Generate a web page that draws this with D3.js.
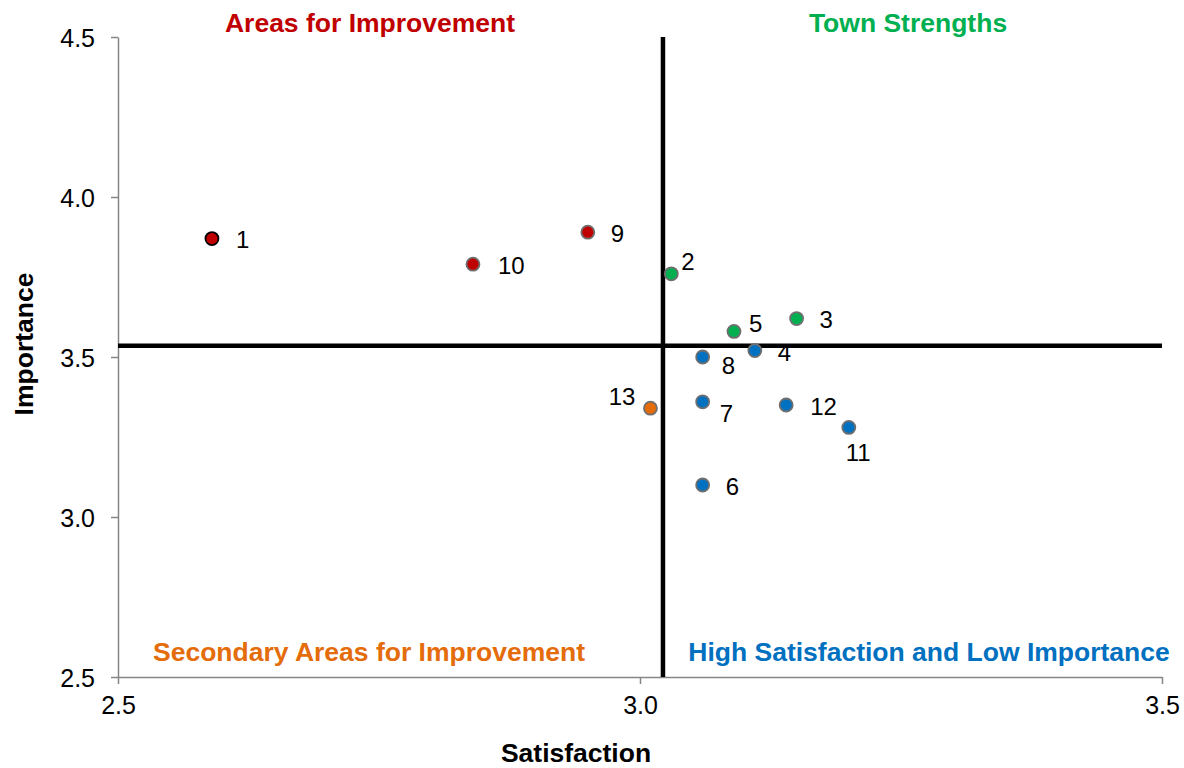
<!DOCTYPE html>
<html>
<head>
<meta charset="utf-8">
<script src="https://cdn.jsdelivr.net/npm/d3@7"></script>
<style>
  body { margin: 0; background: #fff; }
  svg { font-family: "Liberation Sans", Arial, sans-serif; }
</style>
</head>
<body>
<svg id="drawing_region"></svg>
<script>
// chart values
const ids          = ["1", "2", "3", "4", "5", "6", "7", "8", "9", "10", "11", "12", "13"];
const satisfaction = [2.59, 3.03, 3.15, 3.11, 3.09, 3.06, 3.06, 3.06, 2.95, 2.84, 3.20, 3.14, 3.01];
const importance   = [3.87, 3.76, 3.62, 3.52, 3.58, 3.10, 3.36, 3.50, 3.89, 3.79, 3.28, 3.35, 3.34];
const quadrant     = ["improve", "strength", "strength", "high", "strength", "high", "high", "high",
                      "improve", "improve", "high", "high", "secondary"];
const meanSatisfaction = 3.022;
const meanImportance   = 3.535;
const xTicks = [2.5, 3.0, 3.5];
const yTicks = [2.5, 3.0, 3.5, 4.0, 4.5];

// label placement (dx, dy from the point, anchor)
const labelPos = {
    "1":  [24, 1, "start"],  "2": [10, -12, "start"], "3": [23, 1, "start"],
    "4":  [23, 2, "start"],  "5": [15, -8, "start"],  "6": [23, 1, "start"],
    "7":  [17, 12, "start"], "8": [19, 8, "start"],   "9": [23, 1, "start"],
    "10": [25, 1, "start"],  "11": [-3, 25, "start"], "12": [24, 1, "start"],
    "13": [-15, -12, "end"]
};

const colors = {
    improve: "#C00000",
    strength: "#00B050",
    high: "#0070C0",
    secondary: "#E46C0A"
};

const data = ids.map((id, i) => ({
    id: id, x: satisfaction[i], y: importance[i], q: quadrant[i]
}));

const config = {
    width: 1184,
    height: 768,
    margin: {top: 37, right: 22, bottom: 91, left: 118}
};

const svg = d3.select("#drawing_region")
    .attr("width", config.width)
    .attr("height", config.height);

const inner_width = config.width - config.margin.left - config.margin.right;
const inner_height = config.height - config.margin.top - config.margin.bottom;

const chart = svg.append("g")
    .attr("transform", `translate(${config.margin.left}, ${config.margin.top})`);

const xscale = d3.scaleLinear().domain([2.5, 3.5]).range([0, inner_width]);
const yscale = d3.scaleLinear().domain([2.5, 4.5]).range([inner_height, 0]);

const xaxis = d3.axisBottom(xscale).tickValues(xTicks).tickFormat(d3.format(".1f"))
    .tickSizeInner(7).tickSizeOuter(0).tickPadding(12);
const yaxis = d3.axisLeft(yscale).tickValues(yTicks).tickFormat(d3.format(".1f"))
    .tickSizeInner(7).tickSizeOuter(0).tickPadding(16);

const xg = chart.append("g")
    .attr("transform", `translate(0, ${inner_height})`)
    .call(xaxis);
const yg = chart.append("g").call(yaxis);

[xg, yg].forEach(g => {
    g.selectAll("path, line").attr("stroke", "#868686").attr("stroke-width", 1.5);
    g.selectAll("text").attr("fill", "#000").attr("font-size", "25px")
        .attr("font-family", "Liberation Sans, Arial, sans-serif");
});
yg.selectAll("text").attr("dy", "0.36em");

// mean lines
chart.append("line")
    .attr("x1", xscale(meanSatisfaction)).attr("x2", xscale(meanSatisfaction))
    .attr("y1", 0).attr("y2", inner_height)
    .attr("stroke", "#000").attr("stroke-width", 4.5);
chart.append("line")
    .attr("x1", 0).attr("x2", inner_width)
    .attr("y1", yscale(meanImportance)).attr("y2", yscale(meanImportance))
    .attr("stroke", "#000").attr("stroke-width", 4.5);

// points
chart.selectAll("circle").data(data)
    .enter()
    .append("circle")
    .attr("cx", d => xscale(d.x))
    .attr("cy", d => yscale(d.y))
    .attr("r", 6.5)
    .attr("fill", d => colors[d.q])
    .attr("stroke", d => d.id === "1" ? "#000" : "#6f6f6f")
    .attr("stroke-width", 1.8);

chart.selectAll(".plabel").data(data)
    .enter()
    .append("text")
    .attr("class", "plabel")
    .attr("x", d => xscale(d.x) + labelPos[d.id][0])
    .attr("y", d => yscale(d.y) + labelPos[d.id][1])
    .attr("dy", "0.36em")
    .attr("text-anchor", d => labelPos[d.id][2])
    .attr("font-size", "24px")
    .attr("fill", "#000")
    .text(d => d.id);

// quadrant titles
const quadTitles = [
    {text: "Areas for Improvement", x: 370, y: 22, c: colors.improve},
    {text: "Town Strengths", x: 908, y: 22, c: colors.strength},
    {text: "Secondary Areas for Improvement", x: 369, y: 651, c: colors.secondary},
    {text: "High Satisfaction and Low Importance", x: 929, y: 651, c: colors.high}
];
svg.selectAll(".qtitle").data(quadTitles)
    .enter()
    .append("text")
    .attr("class", "qtitle")
    .attr("x", d => d.x)
    .attr("y", d => d.y)
    .attr("dy", "0.36em")
    .attr("text-anchor", "middle")
    .attr("font-size", "26.5px")
    .attr("font-weight", "bold")
    .attr("fill", d => d.c)
    .text(d => d.text);

// axis titles
svg.append("text")
    .attr("x", 576).attr("y", 752)
    .attr("dy", "0.36em")
    .attr("text-anchor", "middle")
    .attr("font-size", "26.5px")
    .attr("font-weight", "bold")
    .text("Satisfaction");

svg.append("text")
    .attr("transform", "translate(23, 344) rotate(-90)")
    .attr("dy", "0.36em")
    .attr("text-anchor", "middle")
    .attr("font-size", "26.5px")
    .attr("font-weight", "bold")
    .text("Importance");
</script>
</body>
</html>
